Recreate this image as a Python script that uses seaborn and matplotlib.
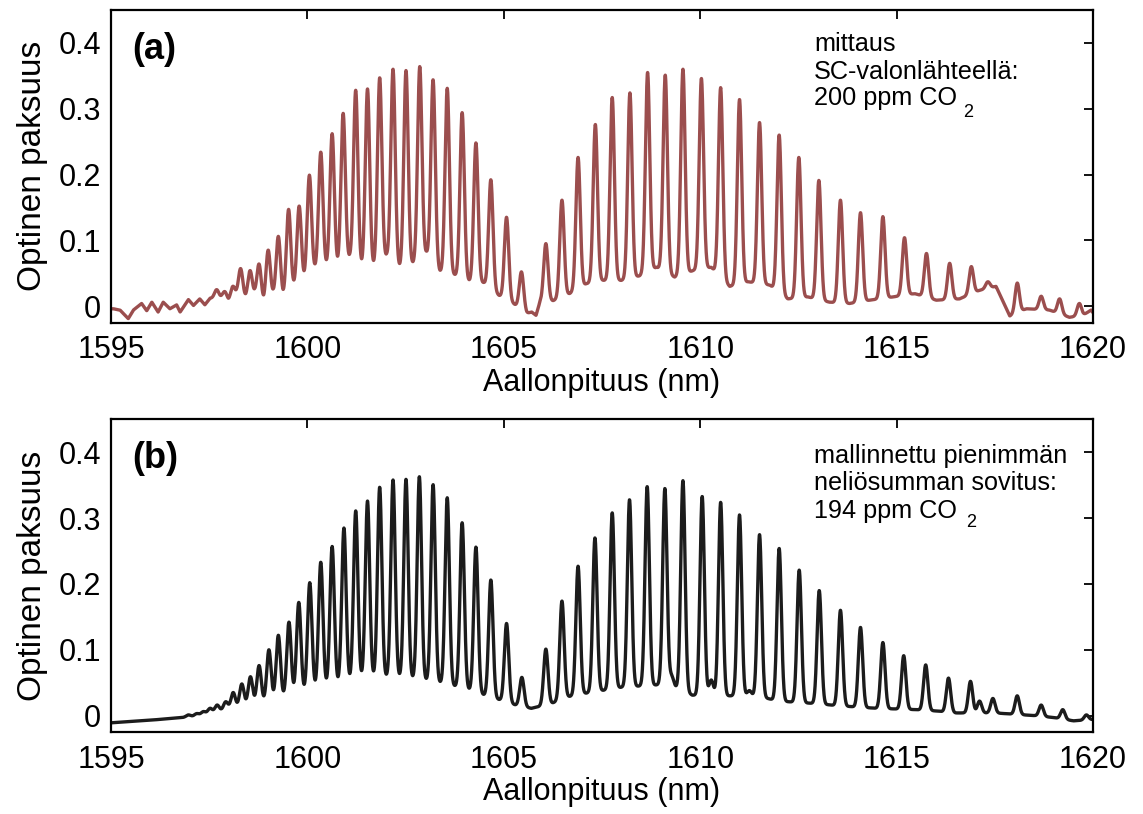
import numpy as np
import pandas as pd
import matplotlib
matplotlib.use("Agg")
import matplotlib.pyplot as plt
import seaborn as sns


# Data ------------------------------------------------------------------------

# (a) measured spectrum: line centres (nm) and peak optical depth
peaks_a_nm = [1597.69, 1597.90, 1598.10, 1598.30, 1598.54, 1598.77, 1599.00,
              1599.26, 1599.52, 1599.79, 1600.05, 1600.34, 1600.63, 1600.91,
              1601.23, 1601.53, 1601.84, 1602.18, 1602.51, 1602.86, 1603.20,
              1603.56, 1603.94, 1604.29, 1604.67, 1605.07, 1605.45, 1606.07,
              1606.48, 1606.89, 1607.33, 1607.76, 1608.21, 1608.66, 1609.11,
              1609.56, 1610.03, 1610.52, 1611.00, 1611.51, 1612.01, 1612.51,
              1613.02, 1613.57, 1614.08, 1614.65, 1615.20, 1615.76, 1616.35,
              1616.90, 1617.32, 1618.07, 1618.68, 1619.15, 1619.65]
peaks_a_val = [0.025, 0.022, 0.030, 0.057, 0.054, 0.064, 0.085,
               0.106, 0.147, 0.152, 0.199, 0.234, 0.262, 0.293,
               0.328, 0.330, 0.347, 0.360, 0.358, 0.364, 0.344,
               0.331, 0.294, 0.248, 0.192, 0.135, 0.052, 0.095,
               0.161, 0.226, 0.276, 0.317, 0.324, 0.355, 0.351,
               0.360, 0.346, 0.332, 0.314, 0.279, 0.260, 0.226,
               0.191, 0.161, 0.142, 0.136, 0.104, 0.080, 0.065,
               0.060, 0.037, 0.035, 0.015, 0.011, 0.004]

# (a) level between the lines (noisy measurement)
base_a_nm = [1595.00, 1595.06, 1595.23, 1595.44, 1595.57, 1595.78, 1595.91,
             1596.04, 1596.20, 1596.33, 1596.50, 1596.67, 1596.76, 1596.97,
             1597.10, 1597.26, 1597.39, 1597.52, 1597.82, 1597.99, 1598.20,
             1598.43, 1598.66, 1598.89, 1599.13, 1599.38, 1599.64, 1599.91,
             1600.19, 1600.49, 1600.78, 1601.08, 1601.38, 1601.69, 1602.02,
             1602.35, 1602.69, 1603.03, 1603.37, 1603.75, 1604.13, 1604.49,
             1604.88, 1605.24, 1605.58, 1605.71, 1605.82, 1605.92, 1606.25,
             1606.68, 1607.10, 1607.53, 1607.99, 1608.46, 1608.89, 1609.35,
             1609.82, 1610.28, 1610.75, 1611.22, 1611.77, 1612.23, 1612.74,
             1613.29, 1613.80, 1614.31, 1614.91, 1615.46, 1616.01, 1616.60,
             1617.11, 1617.53, 1617.88, 1618.30, 1618.89, 1619.40, 1619.74,
             1619.95, 1620.00]
base_a_val = [-0.004, -0.004, -0.006, -0.019, -0.006, 0.004, -0.007,
              0.006, -0.009, 0.006, -0.004, 0.002, -0.009, 0.010,
              0.001, 0.011, 0.002, 0.012, 0.012, 0.006, 0.015,
              0.011, 0.016, 0.002, 0.016, 0.012, 0.027, 0.037,
              0.054, 0.059, 0.059, 0.072, 0.059, 0.059, 0.075,
              0.058, 0.064, 0.079, 0.052, 0.047, 0.037, 0.035,
              0.016, 0.004, -0.011, -0.009, -0.014, 0.006, 0.008,
              0.019, 0.034, 0.039, 0.039, 0.046, 0.059, 0.044,
              0.054, 0.059, 0.030, 0.037, 0.032, 0.011, 0.014,
              0.006, 0.004, 0.009, 0.014, 0.019, 0.009, 0.011,
              0.024, 0.030, -0.015, -0.004, -0.006, -0.017, -0.014,
              -0.006, -0.010]

# (b) least-squares model: line centres (nm) and peak optical depth
peaks_b_nm = [1596.97, 1597.18, 1597.35, 1597.52, 1597.70, 1597.92, 1598.11,
              1598.33, 1598.55, 1598.77, 1599.02, 1599.26, 1599.53, 1599.78,
              1600.06, 1600.34, 1600.63, 1600.93, 1601.23, 1601.53, 1601.84,
              1602.18, 1602.51, 1602.85, 1603.20, 1603.56, 1603.94, 1604.29,
              1604.67, 1605.07, 1605.46, 1606.07, 1606.48, 1606.89, 1607.32,
              1607.76, 1608.20, 1608.65, 1609.10, 1609.27, 1609.56, 1610.05,
              1610.28, 1610.52, 1611.00, 1611.25, 1611.51, 1612.01, 1612.52,
              1613.03, 1613.57, 1614.08, 1614.65, 1615.18, 1615.74, 1616.32,
              1616.88, 1617.11, 1617.45, 1618.07, 1618.68, 1619.23, 1619.83]
peaks_b_val = [0.001, 0.003, 0.006, 0.011, 0.016, 0.021, 0.035,
               0.048, 0.059, 0.076, 0.100, 0.122, 0.142, 0.172,
               0.202, 0.233, 0.257, 0.285, 0.311, 0.326, 0.347,
               0.358, 0.359, 0.363, 0.351, 0.331, 0.293, 0.256,
               0.206, 0.140, 0.058, 0.101, 0.174, 0.227, 0.270,
               0.308, 0.328, 0.348, 0.345, 0.060, 0.357, 0.333,
               0.054, 0.324, 0.305, 0.038, 0.275, 0.254, 0.221,
               0.190, 0.160, 0.134, 0.111, 0.091, 0.077, 0.057,
               0.052, 0.022, 0.026, 0.030, 0.016, 0.009, 0.001]

# (b) smooth level between the lines
base_b_nm = [1595.0, 1596.0, 1597.0, 1597.5, 1598.0, 1598.5, 1599.0, 1599.5,
             1600.0, 1600.5, 1601.0, 1601.5, 1602.0, 1602.5, 1603.0, 1603.5,
             1604.0, 1604.5, 1605.0, 1605.3, 1605.7, 1606.2, 1606.6, 1607.0,
             1607.5, 1608.0, 1608.5, 1609.0, 1609.5, 1609.8, 1610.5, 1611.0,
             1611.5, 1612.0, 1612.5, 1613.0, 1613.5, 1614.0, 1614.5, 1615.0,
             1615.5, 1616.0, 1616.5, 1617.0, 1617.5, 1618.0, 1618.5, 1619.0,
             1619.5, 1620.0]
base_b_val = [-0.011, -0.007, -0.002, 0.003, 0.010, 0.016, 0.021, 0.029,
              0.037, 0.045, 0.051, 0.057, 0.058, 0.057, 0.053, 0.048,
              0.041, 0.031, 0.022, 0.016, 0.011, 0.018, 0.028, 0.033,
              0.038, 0.043, 0.045, 0.047, 0.040, 0.031, 0.030, 0.030,
              0.029, 0.022, 0.020, 0.018, 0.015, 0.013, 0.011, 0.010,
              0.009, 0.007, 0.004, 0.004, 0.004, 0.002, 0.000, -0.003,
              -0.008, -0.006]

x_ticks = [1595, 1600, 1605, 1610, 1615, 1620]
y_ticks = [0, 0.1, 0.2, 0.3, 0.4]
y_tick_labels = ["0", "0.1", "0.2", "0.3", "0.4"]

# Build the curves: level between lines + gaussian line shapes ---------------

grid = np.linspace(1595, 1620, 6000)


def spectrum(base_nm, base_val, peak_nm, peak_val, sigma):
    y = np.interp(grid, base_nm, base_val)
    for c, p in zip(peak_nm, peak_val):
        h = p - np.interp(c, base_nm, base_val)
        y = y + h * np.exp(-0.5 * ((grid - c) / sigma) ** 2)
    return y


df_a = pd.DataFrame({"nm": grid,
                     "od": spectrum(base_a_nm, base_a_val, peaks_a_nm, peaks_a_val, 0.055)})
df_b = pd.DataFrame({"nm": grid,
                     "od": spectrum(base_b_nm, base_b_val, peaks_b_nm, peaks_b_val, 0.055)})

# Plot -----------------------------------------------------------------------

sns.set_style("white")
plt.rcParams["font.family"] = ["Liberation Sans", "DejaVu Sans"]
plt.rcParams["text.color"] = "black"
plt.rcParams["axes.labelcolor"] = "black"

fig, axes = plt.subplots(2, 1, figsize=(11.43, 8.14), dpi=100)
fig.subplots_adjust(left=0.0971, right=0.9563, top=0.9877, bottom=0.1007,
                    hspace=0.31)

panels = [
    (df_a, "#9b4e4e", "(a)", ["mittaus", "SC-valonlähteellä:", "200 ppm CO"],
     [0.869, 0.780, 0.696], (0.868, 0.657)),
    (df_b, "#1c1c1c", "(b)",
     ["mallinnettu pienimmän", "neliösumman sovitus:", "194 ppm CO"],
     [0.860, 0.773, 0.686], (0.871, 0.656)),
]

for ax, (df, col, tag, lines, ys, sub) in zip(axes, panels):
    sns.lineplot(data=df, x="nm", y="od", ax=ax, color=col, linewidth=2.4,
                 estimator=None)
    ax.set_xlim(1595, 1620)
    ax.set_ylim(-0.025, 0.45)
    ax.set_xticks(x_ticks)
    ax.set_xticklabels([str(t) for t in x_ticks])
    ax.set_yticks(y_ticks)
    ax.set_yticklabels(y_tick_labels)
    ax.tick_params(axis="x", pad=9)
    ax.tick_params(axis="y", pad=7)
    ax.tick_params(direction="in", top=True, right=True, length=6.5,
                   width=1.3, labelsize=22, colors="black")
    for s in ax.spines.values():
        s.set_linewidth(1.6)
        s.set_color("black")
    ax.set_xlabel("Aallonpituus (nm)", fontsize=22, labelpad=2)
    ax.set_ylabel("Optinen paksuus", fontsize=24, labelpad=8)

    ax.text(0.022, 0.93, tag, transform=ax.transAxes, fontsize=26,
            fontweight="bold", va="top", ha="left")
    for txt, yy in zip(lines, ys):
        ax.text(0.716, yy, txt, transform=ax.transAxes, fontsize=18.2,
                va="baseline", ha="left")
    ax.text(sub[0], sub[1], "2", transform=ax.transAxes, fontsize=13,
            va="baseline", ha="left")

fig.savefig("out.png", dpi=100)
